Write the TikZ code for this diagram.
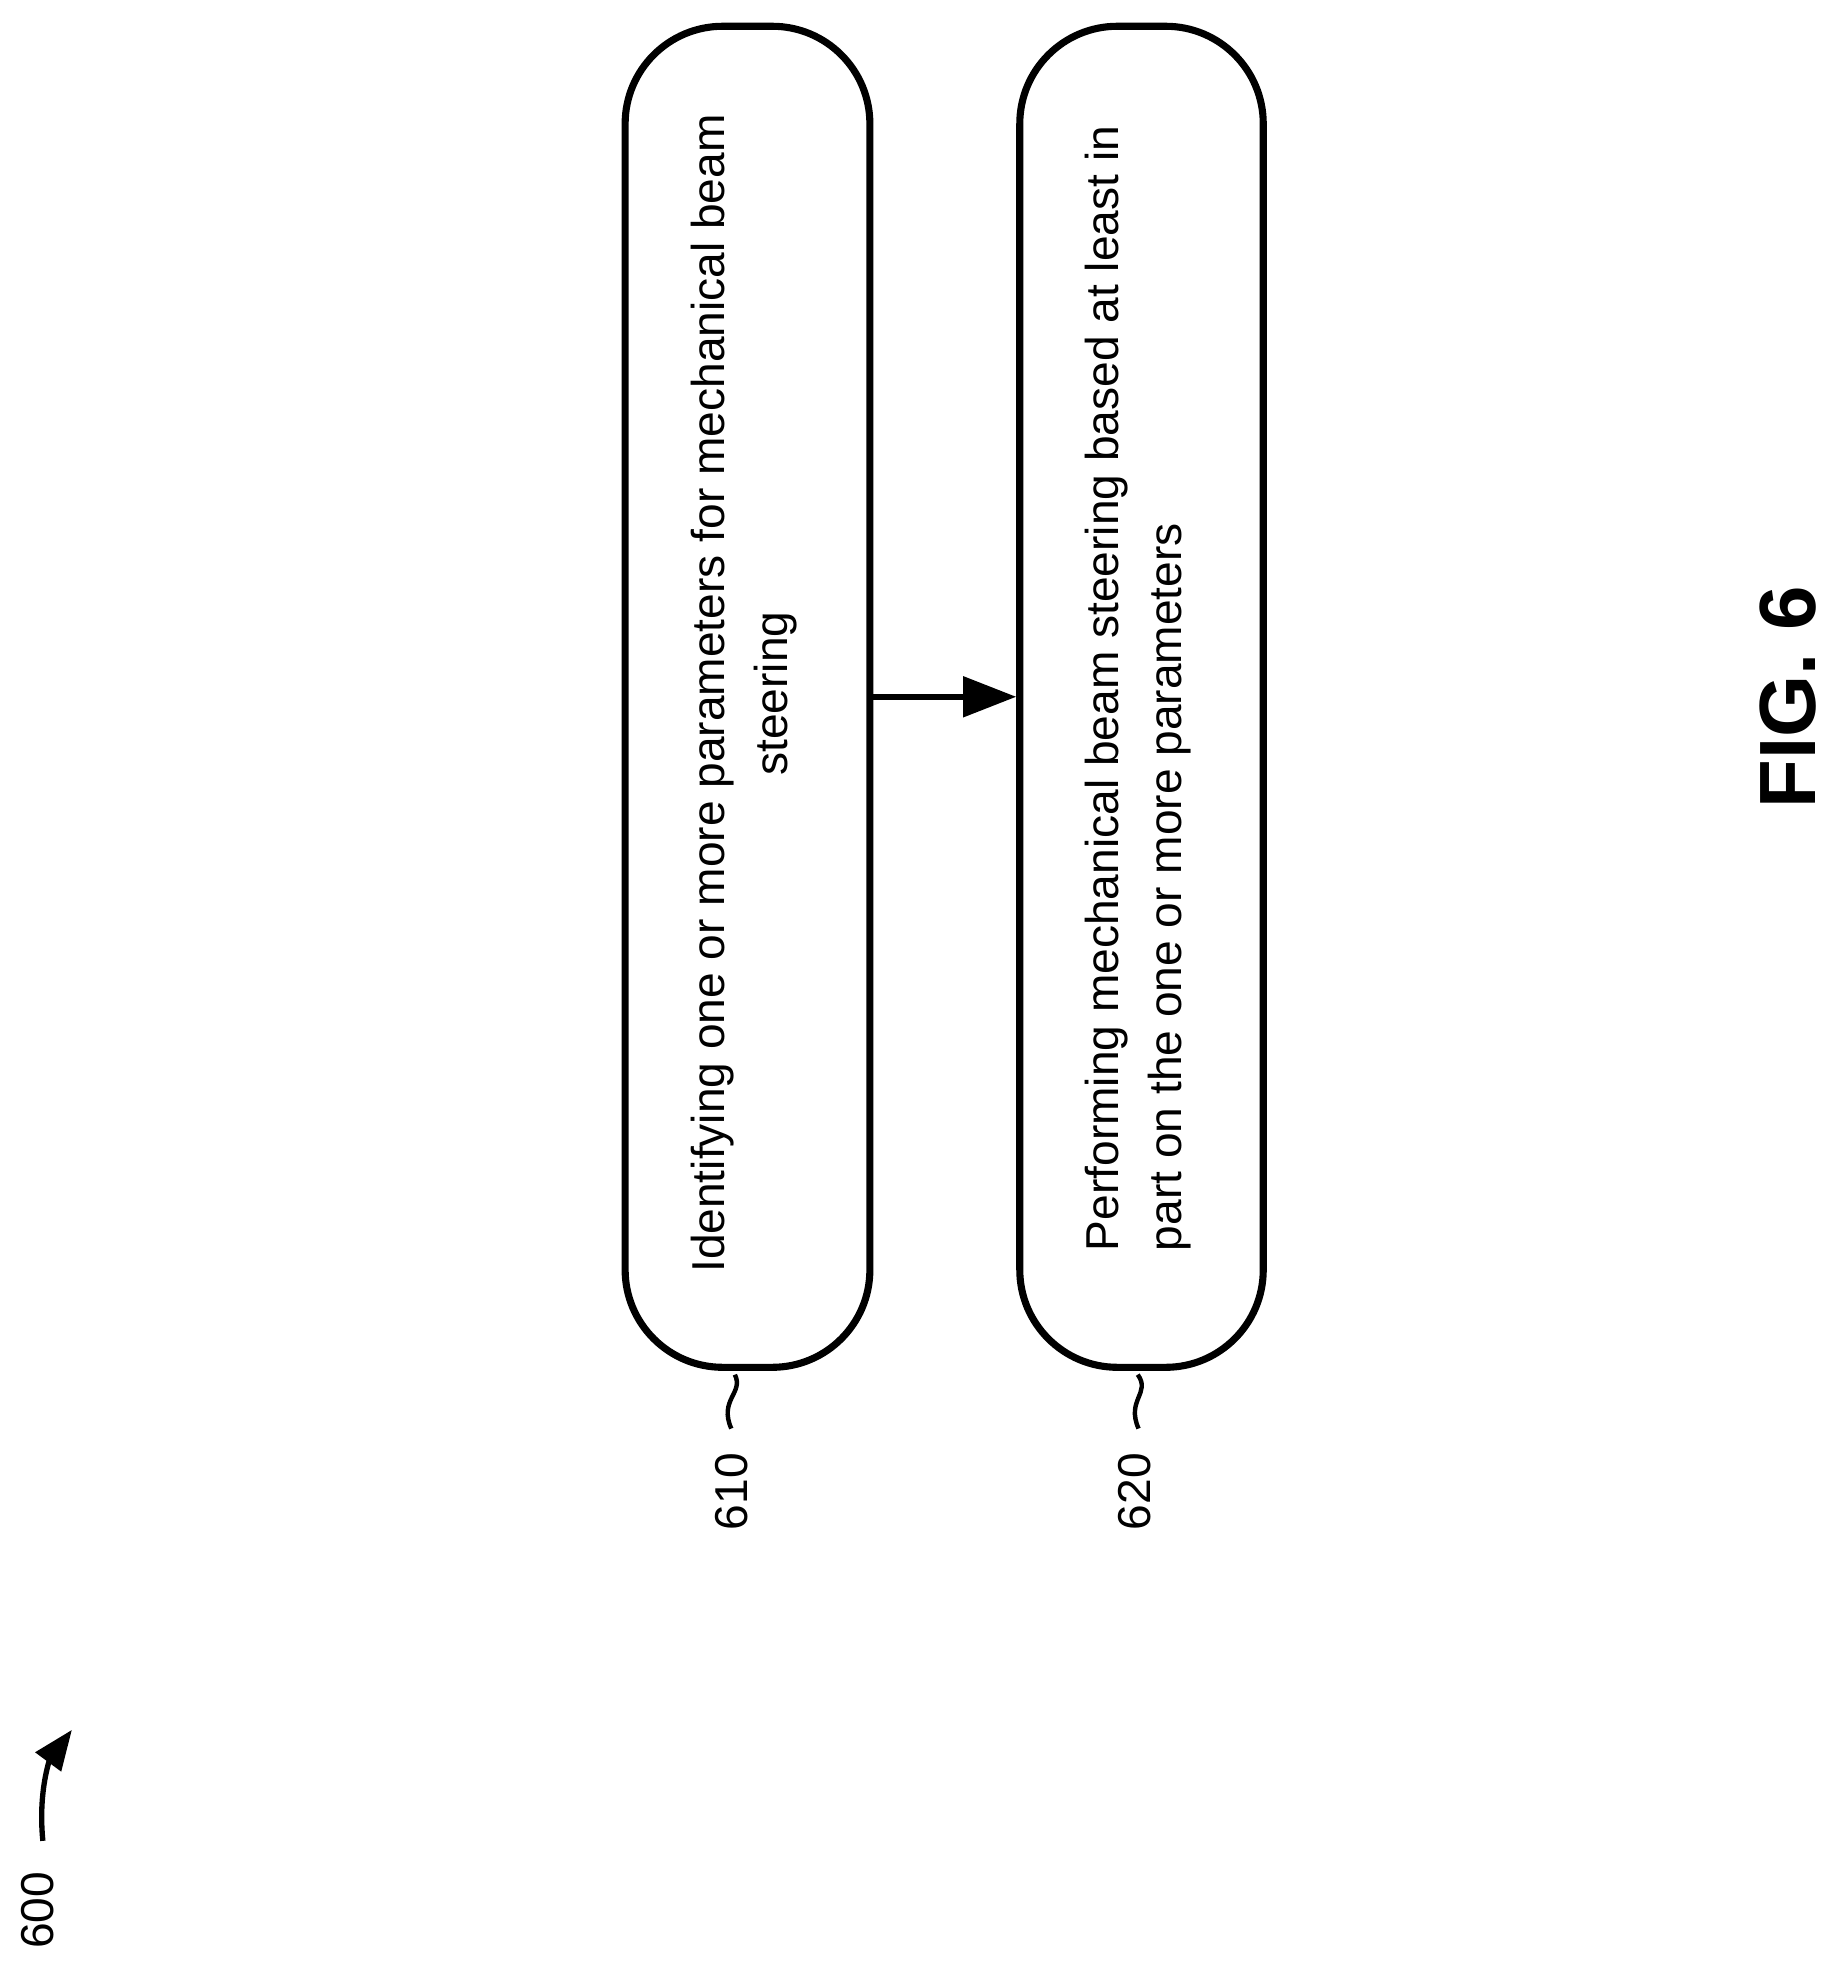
\documentclass[tikz,border=0pt]{standalone}
\usepackage{fontspec}
\setmainfont{Liberation Sans}
\usetikzlibrary{arrows.meta}
\begin{document}
\begin{tikzpicture}[x=0.01cm,y=-0.01cm,
  stepbox/.style={draw,line width=1.6pt,rounded corners=22},
  txt/.style={rotate=90,font=\fontsize{10.4pt}{14.2pt}\selectfont},
  squig/.style={line width=1pt}]
\useasboundingbox (0,0) rectangle (1456,1568);
\node[stepbox,minimum width=1.94cm,minimum height=10.63cm,anchor=north west] (b1) at (493,18) {};
\node[stepbox,minimum width=1.93cm,minimum height=10.63cm,anchor=north west] (b2) at (806,18) {};
\node[txt,align=center] (t1) at (590,550) {Identifying one or more parameters for mechanical beam\\steering};
\node[txt,align=left] (t2) at (903,546) {Performing mechanical beam steering based at least in\\part on the one or more parameters};
\draw[line width=1.3pt,-{Triangle[length=12pt,width=9pt]}] (b1.east) -- (b2.west);
\node[txt] (l1) at (580,1183) {610};
\node[txt] (l2) at (900,1183) {620};
\draw[squig] (b1.south) ++(-10,3) coordinate (s1a) (s1a) .. controls (590,1105) and (570,1110) .. (580,1133) coordinate (s1b);
\draw[squig] (b2.south) ++(-3,3) coordinate (s2a) (s2a) .. controls (913,1105) and (893,1110) .. (903,1133) coordinate (s2b);
\node[txt] (n600) at (30,1515) {600};
\coordinate (c0) at (34,1460);
\coordinate (c1) at (57,1372);
\draw[line width=1.2pt,-{Triangle[length=9pt,width=7pt]}] (c0) .. controls (30,1420) and (40,1395) .. (c1);
\node[rotate=90,font=\bfseries\fontsize{18pt}{20pt}\selectfont] (fig) at (1418,553) {FIG. 6};
\end{tikzpicture}
\end{document}
